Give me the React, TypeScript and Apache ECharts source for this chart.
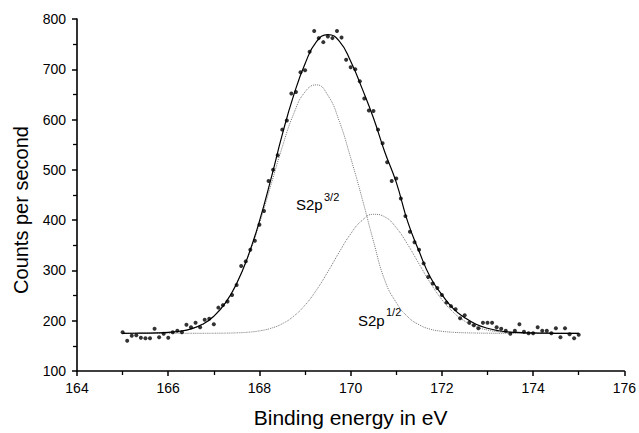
import React, { useEffect, useRef } from "react";
import * as echarts from "echarts";

// Measured points (binding energy in eV, counts per second)
const energies = [
  165.0, 165.1, 165.2, 165.3, 165.4, 165.5, 165.6, 165.7, 165.8, 165.9,
  166.0, 166.1, 166.2, 166.3, 166.4, 166.5, 166.6, 166.7, 166.8, 166.9,
  167.0, 167.1, 167.2, 167.3, 167.4, 167.5, 167.6, 167.7, 167.8, 167.9,
  168.0, 168.1, 168.2, 168.3, 168.4, 168.5, 168.6, 168.7, 168.8, 168.9,
  169.0, 169.1, 169.2, 169.3, 169.4, 169.5, 169.6, 169.7, 169.8, 169.9,
  170.0, 170.1, 170.2, 170.3, 170.4, 170.5, 170.6, 170.7, 170.8, 170.9,
  171.0, 171.1, 171.2, 171.3, 171.4, 171.5, 171.6, 171.7, 171.8, 171.9,
  172.0, 172.1, 172.2, 172.3, 172.4, 172.5, 172.6, 172.7, 172.8, 172.9,
  173.0, 173.1, 173.2, 173.3, 173.4, 173.5, 173.6, 173.7, 173.8, 173.9,
  174.0, 174.1, 174.2, 174.3, 174.4, 174.5, 174.6, 174.7, 174.8, 174.9,
  175.0,
];
const counts = [
  177, 160, 170, 171, 166, 165, 165, 184, 167, 174,
  166, 177, 180, 177, 192, 187, 196, 187, 202, 204,
  193, 226, 231, 238, 251, 271, 309, 318, 341, 359,
  391, 418, 478, 500, 529, 580, 598, 652, 655, 694,
  698, 735, 776, 762, 754, 765, 762, 776, 763, 719,
  704, 700, 676, 642, 618, 617, 580, 553, 515, 478,
  483, 443, 408, 377, 356, 341, 314, 287, 274, 265,
  251, 236, 229, 223, 205, 211, 196, 191, 185, 196,
  196, 196, 187, 184, 180, 174, 180, 193, 178, 175,
  175, 187, 180, 180, 175, 185, 167, 185, 173, 165,
  172,
];

// Fitted curves, every 0.25 eV
const fitEnergies = [
  165.0, 165.25, 165.5, 165.75, 166.0, 166.25, 166.5, 166.75, 167.0, 167.25,
  167.5, 167.75, 168.0, 168.25, 168.5, 168.75, 169.0, 169.25, 169.5, 169.75,
  170.0, 170.25, 170.5, 170.75, 171.0, 171.25, 171.5, 171.75, 172.0, 172.25,
  172.5, 172.75, 173.0, 173.25, 173.5, 173.75, 174.0, 174.25, 174.5, 174.75,
  175.0,
];
const fitTotal = [
  175, 175.1, 175.3, 175.7, 176.8, 179.1, 183.8, 192.8, 208.8, 234.8,
  274.1, 328.5, 398.1, 481, 570, 648, 711, 755, 769, 756,
  716, 662, 603, 535, 475, 397, 338, 286, 252, 224,
  206, 193, 185, 180, 177.5, 176.5, 175.8, 175.3, 175, 175,
  175,
];
const fitS2p32 = [
  175, 175.1, 175.3, 175.7, 176.8, 179.1, 183.8, 192.8, 208.7, 234.5,
  273.2, 326.4, 393.3, 469.2, 545.4, 611.2, 655.1, 669, 648.4, 596.8,
  524, 443.7, 358, 280, 236, 208, 192, 183, 179, 177,
  176, 175.5, 175.2, 175, 175, 175, 175, 175, 175, 175,
  175,
];
const fitS2p12 = [
  175, 175, 175, 175, 175, 175, 175, 175, 175.1, 175.3,
  175.9, 177.1, 179.8, 184.9, 194, 208.9, 231.1, 261, 297.3, 336.4,
  372.7, 399.5, 411.6, 406.4, 384.9, 351.6, 312.9, 274.9, 242.1, 216.9,
  199.2, 188, 181.5, 178, 176.3, 175.5, 175.2, 175, 175, 175,
  175,
];

const FONT = "'Liberation Sans', Arial, Helvetica, sans-serif";

function pairs(xs: number[], ys: number[]) {
  return xs.map((x, i) => [x, ys[i]]);
}

export default function App() {
  const ref = useRef<HTMLDivElement>(null);
  useEffect(() => {
    if (!ref.current) return;
    const chart = echarts.init(ref.current, undefined, { renderer: "svg" });
    const axisCommon = {
      axisLine: { show: true, onZero: false, lineStyle: { color: "#000", width: 1.6 } },
      axisTick: { show: true, inside: false, length: 5, lineStyle: { color: "#000", width: 1.5 } },
      minorTick: { show: true, splitNumber: 2, length: 4, lineStyle: { color: "#000", width: 1.3 } },
      splitLine: { show: false },
      axisLabel: { color: "#000", fontSize: 14, fontFamily: FONT },
    };
    chart.setOption({
      animation: false,
      backgroundColor: "#fff",
      grid: { left: 77, right: 13, top: 19, bottom: 60, containLabel: false },
      xAxis: {
        type: "value",
        min: 164,
        max: 176,
        interval: 2,
        name: "Binding energy in eV",
        nameLocation: "middle",
        nameGap: 36,
        nameTextStyle: { color: "#000", fontSize: 21, fontFamily: FONT },
        ...axisCommon,
        axisLabel: { ...axisCommon.axisLabel, margin: 10 },
      },
      yAxis: {
        type: "value",
        min: 100,
        max: 800,
        interval: 100,
        name: "Counts per second",
        nameLocation: "middle",
        nameGap: 46,
        nameTextStyle: { color: "#000", fontSize: 20, fontFamily: FONT, padding: [0, 30, 0, 0] },
        ...axisCommon,
        axisLabel: { ...axisCommon.axisLabel, margin: 11 },
      },
      series: [
        {
          name: "S2p3/2",
          type: "line",
          data: pairs(fitEnergies, fitS2p32),
          smooth: true,
          showSymbol: false,
          lineStyle: { color: "#777", width: 1, type: "dotted" },
          z: 1,
        },
        {
          name: "S2p1/2",
          type: "line",
          data: pairs(fitEnergies, fitS2p12),
          smooth: true,
          showSymbol: false,
          lineStyle: { color: "#777", width: 1, type: "dotted" },
          z: 1,
        },
        {
          name: "Fit",
          type: "line",
          data: pairs(fitEnergies, fitTotal),
          smooth: true,
          showSymbol: false,
          lineStyle: { color: "#000", width: 1.2 },
          z: 2,
        },
        {
          name: "Data",
          type: "scatter",
          data: pairs(energies, counts),
          symbol: "circle",
          symbolSize: 4,
          itemStyle: { color: "#000" },
          z: 3,
        },
      ],
      graphic: [
        { type: "text", left: 296, top: 197, style: { text: "S2p", fontSize: 15, fontFamily: FONT, fill: "#000" } },
        { type: "text", left: 324, top: 191, style: { text: "3/2", fontSize: 11, fontFamily: FONT, fill: "#000" } },
        { type: "text", left: 358, top: 313, style: { text: "S2p", fontSize: 15, fontFamily: FONT, fill: "#000" } },
        { type: "text", left: 386, top: 306, style: { text: "1/2", fontSize: 11, fontFamily: FONT, fill: "#000" } },
      ],
    });
    return () => chart.dispose();
  }, []);
  return (
    <div
      ref={ref}
      style={{ position: "fixed", left: 0, top: 0, width: 639, height: 433, background: "#fff" }}
    />
  );
}
